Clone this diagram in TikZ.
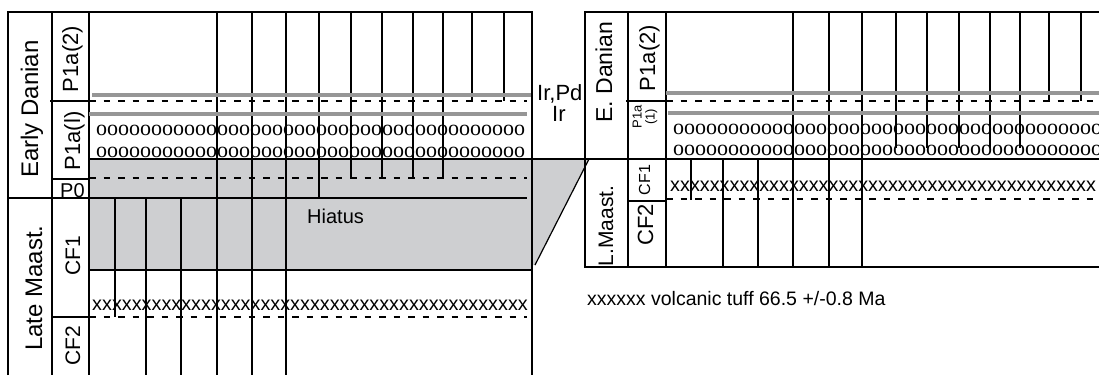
\documentclass[tikz,border=0pt]{standalone}
\usepackage{fontspec}
\setmainfont{Liberation Sans}
\newfontfamily\oofont{Liberation Serif}
\usepackage{tikz}
\definecolor{hiatusgray}{RGB}{206,207,209}
\definecolor{markgray}{RGB}{150,150,150}
\newcommand{\fsz}[1]{\fontsize{#1}{#1}\selectfont}
\newcommand{\repchar}[2]{\foreach \i in {1,...,#1}{#2}}

\begin{document}
\begin{tikzpicture}[
    x=1pt, y=-1pt,
    frame/.style={draw=black, line width=1.5pt},
    col/.style={black, line width=1.2pt},
    dashline/.style={black, line width=1.2pt, dash pattern=on 6.5pt off 8pt},
    grayline/.style={markgray, line width=4pt},
    lbl/.style={inner sep=0pt, anchor=base west},
    vlbl/.style={inner sep=0pt, anchor=base, rotate=90},
    orow/.style={inner sep=0pt, anchor=base west, font=\oofont\fsz{22}},
    xrow/.style={inner sep=0pt, anchor=base west, font=\fsz{19.8}}
]
\useasboundingbox (0,0) rectangle (1099,375);

% Fond gris : hiatus et raccord
\fill[hiatusgray] (89,159) rectangle (532,270);
\fill[hiatusgray] (532,159) -- (589,159) -- (535,265) -- (532,265) -- cycle;

% Panneau gauche : cadre et colonnes
\draw[frame] (8,375) -- (8,12) -- (532,12) -- (532,375);
\draw[frame] (52,12) -- (52,375);
\draw[frame] (89,12) -- (89,375);
\draw[frame] (50,101) -- (89,101);
\draw[frame] (52,179) -- (89,179);
\draw[frame] (52,317) -- (89,317);
\draw[col] (8,198) -- (527,198);
\draw[col] (89,159) -- (1099,159);
\draw[col] (89,270) -- (532,270);
\draw[col] (589,159) -- (535,265);

% Panneau gauche : lignes verticales
\foreach \x in {217,252,286}
    \draw[col] (\x,12) -- (\x,375);
\draw[col] (319,12) -- (319,198);
\foreach \x in {351,382,413,443}
    \draw[col] (\x,12) -- (\x,178);
\foreach \x in {472,504}
    \draw[col] (\x,12) -- (\x,101);
\foreach \x in {146,181}
    \draw[col] (\x,199) -- (\x,375);
\draw[col] (115,199) -- (115,317);

% Panneau gauche : niveaux
\draw[dashline] (89,101) -- (527,101);
\draw[dashline] (89,178) -- (527,178);
\draw[dashline] (89,317) -- (527,317);
\draw[grayline] (92,95) -- (531,95);
\draw[grayline] (89,114) -- (527,114);

\node[orow] (ooLa) at (96,135) {\repchar{39}{o}};
\node[orow] (ooLb) at (96,157) {\repchar{39}{o}};
\node[xrow] (xxL) at (92,310) {\repchar{44}{x}};

% Panneau gauche : etiquettes
\node[vlbl, font=\fsz{24}] (edan) at (38,109) {Early Danian};
\node[vlbl, font=\fsz{24}] (lmaa) at (42,288) {Late Maast.};
\node[vlbl, font=\fsz{22}] (pla2) at (78,59) {P1a(2)};
\node[vlbl, font=\fsz{22}] (pla1) at (80,141) {P1a(l)};
\node[lbl, font=\fsz{20}] (pzero) at (60,197) {P0};
\node[vlbl, font=\fsz{21}] (cfa) at (80,256) {CF1};
\node[vlbl, font=\fsz{21}] (cfb) at (80,346) {CF2};
\node[lbl, font=\fsz{20}] (hiat) at (307,223) {Hiatus};
\node[lbl, font=\fsz{22}] (irpd) at (537,100) {Ir,Pd};
\node[lbl, font=\fsz{22}] (ir) at (552,121) {Ir};

% Panneau droit : cadre et colonnes
\draw[frame] (1099,12) -- (585,12) -- (585,267) -- (1099,267);
\draw[frame] (628,12) -- (628,267);
\draw[frame] (666,12) -- (666,267);
\draw[frame] (626,101) -- (666,101);
\draw[frame] (628,201) -- (666,201);

% Panneau droit : lignes verticales
\foreach \x in {793,829,862}
    \draw[col] (\x,12) -- (\x,267);
\foreach \x in {896,927,959,990,1020}
    \draw[col] (\x,12) -- (\x,148);
\foreach \x in {1049,1081}
    \draw[col] (\x,12) -- (\x,101);
\foreach \x in {723,758}
    \draw[col] (\x,159) -- (\x,267);
\draw[col] (691,159) -- (691,200);

% Panneau droit : niveaux
\draw[dashline] (666,101) -- (1099,101);
\draw[dashline] (666,199) -- (1099,199);
\draw[grayline] (666,93) -- (1099,93);
\draw[grayline] (668,113) -- (1099,113);

\begin{scope}
    \clip (585,0) rectangle (1099,375);
    \node[orow] (ooRa) at (673,134) {\repchar{39}{o}};
    \node[orow] (ooRb) at (673,155) {\repchar{39}{o}};
    \node[xrow] (xxR) at (670,191) {\repchar{43}{x}};
\end{scope}

% Panneau droit : etiquettes
\node[vlbl, font=\fsz{23}] (edanR) at (612,72) {E. Danian};
\node[vlbl, font=\fsz{21}] (lmaaR) at (613,226) {L.Maast.};
\node[vlbl, font=\fsz{22}] (pla2R) at (655,58) {P1a(2)};
\node[inner sep=0pt, rotate=90, align=center, font=\fsz{13}] (pla1R) at (645,117) {P1a\\(1)};
\node[vlbl, font=\fsz{16}] (cfaR) at (650,180) {CF1};
\node[vlbl, font=\fsz{22}] (cfbR) at (653,225) {CF2};
\node[lbl, font=\fsz{19.5}] (tuff) at (587,305) {xxxxxx volcanic tuff 66.5 +/-0.8 Ma};

\end{tikzpicture}
\end{document}
